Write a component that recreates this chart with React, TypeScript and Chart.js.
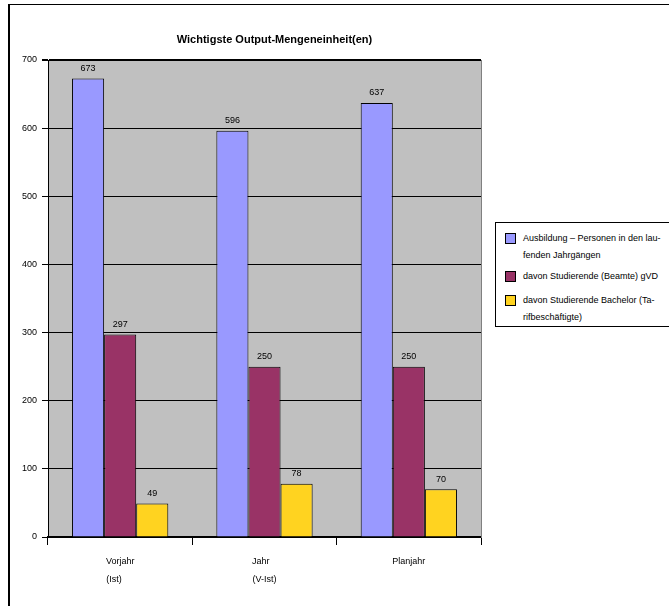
import React, { useEffect, useRef } from 'react';
import { Chart, registerables } from 'chart.js';

Chart.register(...registerables);

// ---- data ----
const categories: string[][] = [['Vorjahr', '(Ist)'], ['Jahr', '(V-Ist)'], ['Planjahr']];
const seriesLegendLines: string[][] = [
  ['Ausbildung – Personen in den lau-', 'fenden Jahrgängen'],
  ['davon Studierende (Beamte) gVD'],
  ['davon Studierende Bachelor (Ta-', 'rifbeschäftigte)'],
];
const ausbildung = [673, 596, 637];
const beamte = [297, 250, 250];
const bachelor = [49, 78, 70];
const yTicks = [0, 100, 200, 300, 400, 500, 600, 700];
const chartTitle = 'Wichtigste Output-Mengeneinheit(en)';

const seriesColors = ['#9999FF', '#993366', '#FFD320'];
const FONT = '"Liberation Sans", Arial, sans-serif';

const measureCtx = typeof document !== 'undefined' ? document.createElement('canvas').getContext('2d') : null;
function leftAlignLines(lines: string[]): string[] {
  if (!measureCtx || lines.length < 2) return lines;
  measureCtx.font = `9px ${FONT}`;
  const widths = lines.map((l) => measureCtx.measureText(l).width);
  const max = Math.max(...widths);
  const sp = measureCtx.measureText(' ').width || 2.5;
  return lines.map((l, i) => l + ' '.repeat(Math.round((max - widths[i]) / sp)));
}

const plotBackground = {
  id: 'plotBackground',
  beforeDraw(chart: any) {
    const { ctx, chartArea } = chart;
    ctx.save();
    ctx.fillStyle = '#C0C0C0';
    ctx.fillRect(chartArea.left, chartArea.top, chartArea.right - chartArea.left, chartArea.bottom - chartArea.top);
    ctx.restore();
  },
};

const barValueLabels = {
  id: 'barValueLabels',
  afterDatasetsDraw(chart: any) {
    const { ctx } = chart;
    ctx.save();
    ctx.font = `9px ${FONT}`;
    ctx.fillStyle = '#000';
    ctx.textAlign = 'center';
    ctx.textBaseline = 'middle';
    chart.data.datasets.forEach((ds: any, di: number) => {
      const meta = chart.getDatasetMeta(di);
      meta.data.forEach((el: any, i: number) => {
        ctx.fillText(String(ds.data[i]), el.x, el.y - 10);
      });
    });
    ctx.restore();
  },
};

export default function App() {
  const canvasRef = useRef<HTMLCanvasElement | null>(null);

  useEffect(() => {
    if (!canvasRef.current) return;
    const values = [ausbildung, beamte, bachelor];
    const chart = new Chart(canvasRef.current, {
      type: 'bar',
      data: {
        labels: categories,
        datasets: values.map((v, i) => ({
          label: seriesLegendLines[i].join(''),
          data: v,
          backgroundColor: seriesColors[i],
          borderColor: '#000000',
          borderWidth: 1,
          categoryPercentage: 0.667,
          barPercentage: 1,
        })),
      },
      options: {
        animation: false,
        responsive: false,
        devicePixelRatio: 1,
        layout: { padding: { left: 0, right: 120, top: 0, bottom: 0 } },
        plugins: {
          legend: { display: false },
          tooltip: { enabled: false },
          title: {
            display: true,
            text: chartTitle,
            color: '#000',
            font: { family: FONT, size: 11, weight: 'bold', lineHeight: 1.2 },
            padding: { top: 33.4, bottom: 13.4 },
          },
        },
        scales: {
          x: {
            type: 'category',
            offset: true,
            grid: {
              display: true,
              drawOnChartArea: false,
              drawTicks: true,
              tickLength: 8,
              color: '#000',
              offset: true,
            },
            border: { display: true, color: '#000', width: 2 },
            ticks: {
              color: '#000',
              font: { family: FONT, size: 9, lineHeight: 2 },
              padding: 8,
              maxRotation: 0,
              autoSkip: false,
              callback: (_v: any, idx: number) => leftAlignLines(categories[idx]),
            },
            afterFit: (s: any) => {
              s.height = 69;
            },
          },
          y: {
            type: 'linear',
            min: yTicks[0],
            max: yTicks[yTicks.length - 1],
            afterBuildTicks: (s: any) => {
              s.ticks = yTicks.map((v) => ({ value: v }));
            },
            grid: {
              color: '#000',
              lineWidth: (c: any) => (c.tick && c.tick.value === yTicks[yTicks.length - 1] ? 2 : 1),
              tickLength: 6,
              drawTicks: true,
            },
            border: { display: true, color: '#000', width: 1 },
            ticks: {
              color: '#000',
              font: { family: FONT, size: 9 },
              padding: 5,
            },
            afterFit: (s: any) => {
              s.width = 48;
            },
          },
          yRight: {
            type: 'linear',
            position: 'right',
            display: true,
            grid: { display: false },
            ticks: { display: false },
            border: { display: true, color: '#808080', width: 1 },
            afterFit: (s: any) => {
              s.width = 68;
            },
          },
        },
      },
      plugins: [plotBackground, barValueLabels],
    } as any);
    return () => chart.destroy();
  }, []);

  const entryGaps = [4, 7, 0];

  return (
    <div
      style={{
        position: 'fixed',
        left: 0,
        top: 0,
        width: 669,
        height: 606,
        overflow: 'hidden',
        background: '#fff',
        fontFamily: FONT,
      }}
    >
      <div
        style={{
          position: 'absolute',
          left: 8,
          top: 4,
          width: 800,
          height: 800,
          borderTop: '1px solid #000',
          borderLeft: '2px solid #000',
        }}
      />
      <canvas
        ref={canvasRef}
        width={669}
        height={606}
        style={{ position: 'absolute', left: 0, top: 0, width: 669, height: 606 }}
      />
      <div
        style={{
          position: 'absolute',
          left: 495,
          top: 222,
          width: 300,
          height: 105,
          border: '1px solid #000',
          boxSizing: 'border-box',
          background: '#fff',
          fontSize: 9,
          lineHeight: '17px',
          color: '#000',
          paddingTop: 7,
        }}
      >
        {seriesLegendLines.map((lines, i) => (
          <div
            key={i}
            style={{ position: 'relative', paddingLeft: 27, marginBottom: entryGaps[i], whiteSpace: 'nowrap' }}
          >
            <span
              style={{
                position: 'absolute',
                left: 9,
                top: 3,
                width: 11,
                height: 11,
                boxSizing: 'border-box',
                border: '1px solid #000',
                background: seriesColors[i],
              }}
            />
            {lines.map((ln, j) => (
              <div key={j}>{ln}</div>
            ))}
          </div>
        ))}
      </div>
    </div>
  );
}
